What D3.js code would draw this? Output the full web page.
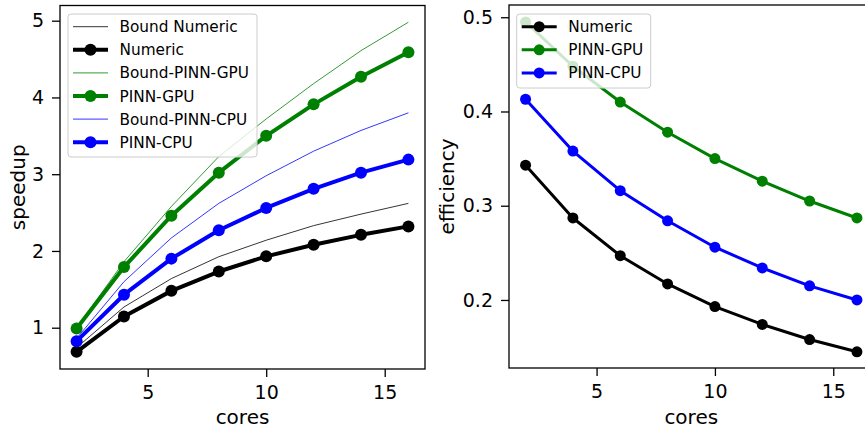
<!DOCTYPE html>
<html><head><meta charset="utf-8">
<script src="https://cdn.jsdelivr.net/npm/d3@7"></script>
<style>body{margin:0;background:#fff;}svg{display:block;font-family:"DejaVu Sans",sans-serif;}</style>
</head><body>
<svg id="chart" width="865" height="428"></svg>
<script>
const cores = [2,4,6,8,10,12,14,16];
const speedupNumeric = [0.686,1.146,1.48,1.732,1.93,2.08,2.21,2.32];
const speedupGPU = [0.99,1.79,2.46,3.02,3.50,3.91,4.27,4.59];
const speedupCPU = [0.825,1.43,1.90,2.27,2.56,2.81,3.02,3.19];
const boundNumeric = [0.74,1.27,1.64,1.925,2.14,2.33,2.48,2.62];
const boundGPU = [1.0,1.86,2.58,3.23,3.72,4.18,4.61,4.98];
const boundCPU = [0.86,1.60,2.17,2.62,2.98,3.30,3.57,3.80];
const effNumeric = [0.343,0.287,0.247,0.217,0.193,0.174,0.158,0.145];
const effGPU = [0.495,0.448,0.410,0.378,0.350,0.326,0.305,0.287];
const effCPU = [0.413,0.358,0.316,0.284,0.256,0.234,0.215,0.200];
const xTicks = [5,10,15];
const speedupTicks = [1,2,3,4,5];
const effTicks = [0.2,0.3,0.4,0.5];

const svg = d3.select("#chart");
const TICK_FS = 19, LABEL_FS = 20, LEG_FS = 15.3;

function panel(cfg){
  const g = svg.append("g");
  const x = d3.scaleLinear().domain([1.3,16.7]).range([cfg.x0,cfg.x1]);
  const y = d3.scaleLinear().domain(cfg.yDom).range([cfg.y1,cfg.y0]);
  const clipId = "clip"+cfg.id;
  svg.append("clipPath").attr("id",clipId).append("rect")
    .attr("x",cfg.x0).attr("y",cfg.y0).attr("width",cfg.x1-cfg.x0).attr("height",cfg.y1-cfg.y0);
  const plot = g.append("g").attr("clip-path",`url(#${clipId})`);
  const line = d3.line().x((d,i)=>x(cores[i])).y(d=>y(d));
  cfg.series.forEach(s=>{
    plot.append("path").datum(s.values).attr("d",line).attr("fill","none")
      .attr("stroke",s.color).attr("stroke-width",s.lw).attr("stroke-linejoin","round").attr("stroke-linecap","butt");
    if(s.marker){
      plot.selectAll(null).data(s.values).enter().append("circle")
        .attr("cx",(d,i)=>x(cores[i])).attr("cy",d=>y(d)).attr("r",s.r).attr("fill",s.color);
    }
  });
  // axes
  const xAx = g.append("g").attr("transform",`translate(0,${cfg.y1})`)
    .call(d3.axisBottom(x).tickValues(xTicks).tickSize(8).tickPadding(4).tickFormat(d3.format("d")));
  const yAx = g.append("g").attr("transform",`translate(${cfg.x0},0)`)
    .call(d3.axisLeft(y).tickValues(cfg.yTicks).tickSize(8).tickPadding(8).tickFormat(cfg.fmt));
  [xAx,yAx].forEach(a=>{
    a.select(".domain").remove();
    a.selectAll("line").attr("stroke","#000").attr("stroke-width",1.3);
    a.selectAll("text").attr("font-size",TICK_FS).attr("fill","#000").attr("font-family","DejaVu Sans");
  });
  xAx.selectAll("text").attr("dy","0.95em");
  // frame
  g.append("rect").attr("x",cfg.x0).attr("y",cfg.y0).attr("width",cfg.x1-cfg.x0).attr("height",cfg.y1-cfg.y0)
    .attr("fill","none").attr("stroke","#000").attr("stroke-width",1.3);
  // labels
  g.append("text").attr("x",(cfg.x0+cfg.x1)/2).attr("y",424).attr("text-anchor","middle")
    .attr("font-size",LABEL_FS).text("cores");
  g.append("text").attr("transform",`translate(${cfg.ylx},${(cfg.y0+cfg.y1)/2}) rotate(-90)`)
    .attr("text-anchor","middle").attr("dy","0.35em").attr("font-size",LABEL_FS).text(cfg.ylabel);
  // legend
  const L = cfg.legend;
  const lg = g.append("g");
  lg.append("rect").attr("x",L.x).attr("y",L.y).attr("width",L.w).attr("height",L.h).attr("rx",3)
    .attr("fill","#fff").attr("fill-opacity",0.8).attr("stroke","#cccccc").attr("stroke-width",1);
  L.items.forEach((s,i)=>{
    const yy = L.y + 12.7 + i*23.1;
    lg.append("line").attr("x1",L.x+5).attr("x2",L.x+40).attr("y1",yy).attr("y2",yy)
      .attr("stroke",s.color).attr("stroke-width",s.lw);
    if(s.marker) lg.append("circle").attr("cx",L.x+22.5).attr("cy",yy).attr("r",s.r).attr("fill",s.color);
    lg.append("text").attr("x",L.x+51.5).attr("y",yy).attr("dy","0.36em").attr("font-size",LEG_FS).text(s.name);
  });
}

const leftSeries = [
  {name:"Bound Numeric",values:boundNumeric,color:"#000000",lw:0.8,marker:false},
  {name:"Numeric",values:speedupNumeric,color:"#000000",lw:4,marker:true,r:6},
  {name:"Bound-PINN-GPU",values:boundGPU,color:"#008000",lw:0.8,marker:false},
  {name:"PINN-GPU",values:speedupGPU,color:"#008000",lw:4,marker:true,r:6},
  {name:"Bound-PINN-CPU",values:boundCPU,color:"#0000ff",lw:0.8,marker:false},
  {name:"PINN-CPU",values:speedupCPU,color:"#0000ff",lw:4,marker:true,r:6}
];
panel({id:"L",x0:60,x1:425,y0:5.5,y1:369,yDom:[0.462,5.198],yTicks:speedupTicks,fmt:d3.format("d"),
  ylabel:"speedup",ylx:18,series:leftSeries,
  legend:{x:68,y:14,w:189,h:143,items:leftSeries}});

const rightSeries = [
  {name:"Numeric",values:effNumeric,color:"#000000",lw:3,marker:true,r:5.5},
  {name:"PINN-GPU",values:effGPU,color:"#008000",lw:3,marker:true,r:5.5},
  {name:"PINN-CPU",values:effCPU,color:"#0000ff",lw:3,marker:true,r:5.5}
];
panel({id:"R",x0:509,x1:873.5,y0:5,y1:368,yDom:[0.1278,0.513],yTicks:effTicks,fmt:d3.format(".1f"),
  ylabel:"efficiency",ylx:446.7,series:rightSeries,
  legend:{x:516.7,y:14,w:134,h:74,items:rightSeries}});
</script>
</body></html>
